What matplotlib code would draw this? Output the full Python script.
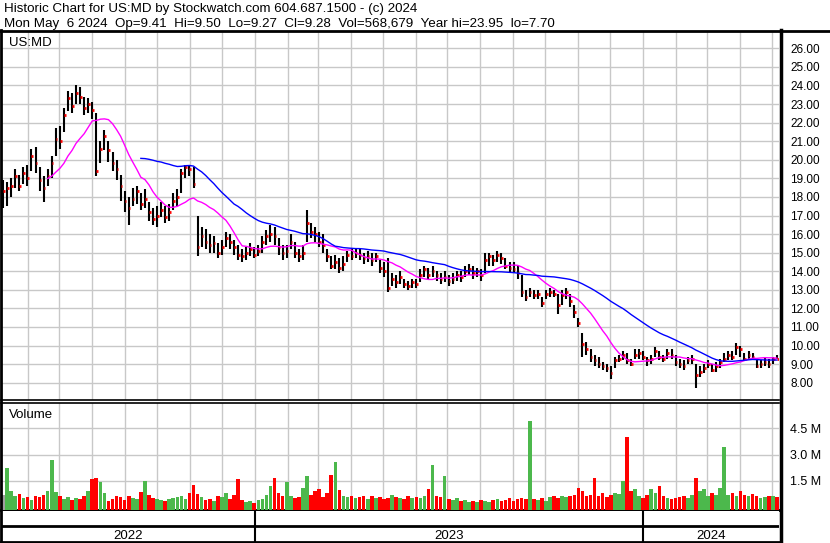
import matplotlib
matplotlib.use('Agg')
import matplotlib.pyplot as plt
import matplotlib.dates as mdates
from matplotlib.lines import Line2D
from matplotlib.ticker import FormatStrFormatter
import numpy as np
import pandas as pd

plt.rcParams['font.family'] = ['Liberation Sans', 'DejaVu Sans']

# US:MD, sampled about every 2-3 sessions, 9 May 2022 .. 6 May 2024
close = [
    18.3, 18.5, 18.6, 19.1, 18.6, 19.3, 19.0, 20.2, 19.8, 18.9,
    18.5, 19.1, 19.8, 21.1, 21.0, 22.4, 23.3, 22.9, 23.6, 23.4,
    22.8, 23.0, 22.7, 19.4, 20.6, 21.3, 20.5, 19.8, 19.5, 18.6,
    17.8, 17.4, 17.9, 18.3, 17.6, 17.9, 17.2, 16.8, 17.0, 17.3,
    16.9, 17.2, 17.8, 18.0, 19.3, 19.6, 19.5, 18.7, 15.3, 15.9,
    15.6, 15.4, 15.5, 15.0, 15.3, 15.8, 15.6, 15.3, 14.9, 14.8,
    15.0, 15.2, 14.9, 15.1, 15.6, 15.9, 16.0, 15.9, 15.3, 15.0,
    15.1, 15.6, 15.0, 14.8, 15.0, 16.6, 16.1, 16.0, 15.6, 15.4,
    14.8, 14.3, 14.5, 14.2, 14.4, 14.9, 14.8, 15.0, 14.9, 14.7,
    14.8, 14.6, 14.8, 14.2, 14.0, 13.1, 13.6, 13.4, 13.7, 13.3,
    13.2, 13.4, 13.3, 13.8, 14.1, 13.8, 14.0, 13.8, 13.6, 13.7,
    13.5, 13.6, 13.8, 13.7, 14.0, 14.1, 13.9, 14.0, 13.8, 14.6,
    14.8, 14.6, 14.9, 14.7, 14.3, 14.2, 14.1, 13.9, 12.9, 12.6,
    12.9, 12.7, 12.8, 12.3, 12.8, 12.9, 12.8, 12.2, 12.7, 12.9,
    12.4, 11.8, 11.2, 10.1, 9.8, 9.4, 9.2, 9.0, 8.9, 8.8,
    8.5, 9.2, 9.3, 9.5, 9.2, 9.0, 9.5, 9.6, 9.4, 9.2,
    9.3, 9.7, 9.4, 9.3, 9.6, 9.5, 9.1, 9.0, 8.9, 9.2,
    9.3, 8.4, 8.6, 8.8, 9.0, 8.7, 8.9, 9.1, 9.3, 9.5,
    9.4, 9.9, 9.8, 9.3, 9.5, 9.4, 8.9, 9.0, 9.1, 9.0,
    9.3, 9.28]

high = [
    18.9, 18.8, 19.0, 19.5, 19.2, 19.6, 19.7, 20.6, 20.7, 19.6,
    19.1, 19.5, 20.2, 21.7, 21.8, 22.8, 23.7, 23.6, 24.0, 23.9,
    23.4, 23.3, 23.1, 22.5, 21.0, 21.6, 21.0, 20.4, 20.0, 19.2,
    18.3, 18.0, 18.5, 18.6, 18.2, 18.4, 17.7, 17.4, 17.5, 17.7,
    17.5, 17.6, 18.2, 18.4, 19.5, 19.7, 19.7, 19.6, 17.0, 16.4,
    16.3, 16.0, 15.9, 15.5, 15.7, 16.1, 16.0, 15.7, 15.4, 15.2,
    15.3, 15.5, 15.3, 15.4, 15.9, 16.2, 16.5, 16.4, 15.8, 15.4,
    15.4, 16.0, 15.6, 15.2, 15.4, 17.3, 16.6, 16.4, 16.1, 16.0,
    15.2, 14.8, 14.9, 14.7, 14.8, 15.1, 15.2, 15.2, 15.2, 15.0,
    15.1, 15.0, 15.0, 14.6, 14.5, 14.7, 13.9, 13.8, 14.0, 13.6,
    13.5, 13.6, 13.6, 14.1, 14.3, 14.2, 14.3, 14.0, 13.9, 14.0,
    13.8, 13.9, 14.0, 14.0, 14.3, 14.4, 14.3, 14.2, 14.1, 15.0,
    15.0, 14.9, 15.1, 15.0, 14.7, 14.5, 14.5, 14.3, 13.8, 13.0,
    13.1, 13.0, 13.0, 12.6, 13.0, 13.1, 13.0, 12.8, 13.0, 13.1,
    12.8, 12.2, 11.5, 10.7, 10.2, 9.8, 9.5, 9.4, 9.1, 9.0,
    8.9, 9.4, 9.5, 9.7, 9.6, 9.3, 9.8, 9.8, 9.7, 9.4,
    9.5, 9.9, 9.7, 9.5, 9.8, 9.8, 9.5, 9.3, 9.2, 9.4,
    9.5, 9.0, 8.9, 9.0, 9.2, 9.0, 9.1, 9.3, 9.6, 9.7,
    9.7, 10.15, 10.0, 9.6, 9.7, 9.6, 9.3, 9.2, 9.4, 9.3,
    9.4, 9.50]

low = [
    17.4, 17.5, 18.0, 18.5, 18.3, 18.7, 18.6, 19.4, 19.3, 18.3,
    17.7, 18.6, 19.0, 20.2, 20.6, 21.5, 22.6, 22.5, 23.0, 23.0,
    22.4, 22.5, 22.2, 19.1, 19.8, 20.5, 19.9, 19.4, 18.9, 17.8,
    17.2, 16.5, 17.5, 17.6, 17.3, 17.4, 16.7, 16.5, 16.4, 16.9,
    16.6, 16.7, 17.3, 17.5, 18.2, 19.0, 19.1, 18.5, 14.8, 15.3,
    15.2, 15.0, 15.0, 14.7, 14.9, 15.3, 15.2, 14.9, 14.6, 14.5,
    14.6, 14.8, 14.7, 14.8, 15.0, 15.4, 15.6, 15.4, 14.9, 14.6,
    14.7, 15.2, 14.7, 14.5, 14.6, 15.6, 15.8, 15.6, 15.3, 15.0,
    14.5, 14.1, 14.1, 13.9, 14.0, 14.5, 14.6, 14.7, 14.6, 14.4,
    14.5, 14.3, 14.5, 13.9, 13.7, 12.9, 13.2, 13.1, 13.3, 13.1,
    13.0, 13.1, 13.1, 13.4, 13.7, 13.6, 13.7, 13.5, 13.3, 13.4,
    13.2, 13.3, 13.5, 13.4, 13.7, 13.8, 13.6, 13.7, 13.5, 13.9,
    14.3, 14.3, 14.5, 14.4, 14.1, 13.9, 13.9, 13.6, 12.6, 12.4,
    12.6, 12.5, 12.5, 12.1, 12.5, 12.6, 12.6, 11.7, 12.2, 12.5,
    12.1, 11.5, 11.0, 9.4, 9.5, 9.1, 8.9, 8.8, 8.7, 8.6,
    8.2, 8.8, 9.1, 9.2, 9.0, 8.9, 9.3, 9.3, 9.2, 8.9,
    9.0, 9.4, 9.2, 9.1, 9.3, 9.3, 8.9, 8.8, 8.7, 9.0,
    9.0, 7.7, 8.3, 8.5, 8.8, 8.6, 8.6, 8.8, 9.1, 9.2,
    9.2, 9.5, 9.4, 9.2, 9.3, 9.2, 8.8, 8.8, 8.9, 8.8,
    9.0, 9.27]

# volume in millions
volume = [
    0.7, 2.23, 0.9, 0.6, 0.75, 0.5, 0.55, 0.4, 0.65, 0.55,
    0.7, 0.9, 2.67, 0.85, 0.6, 0.45, 0.55, 0.4, 0.5, 0.45,
    0.6, 0.9, 1.6, 1.63, 1.4, 0.8, 0.35, 0.45, 0.6, 0.55,
    0.4, 0.65, 0.5, 0.45, 0.85, 1.5, 0.7, 0.5, 0.45, 0.4,
    0.35, 0.45, 0.5, 0.55, 0.6, 0.45, 0.8, 1.23, 0.75, 0.55,
    0.4, 0.45, 0.35, 0.6, 0.55, 0.8, 0.45, 0.7, 1.6, 0.4,
    0.3, 0.35, 0.25, 0.4, 0.45, 0.7, 1.2, 1.65, 0.8, 0.6,
    1.44, 0.6, 0.5, 0.55, 1.1, 1.8, 0.7, 0.9, 1.0, 0.55,
    0.8, 1.85, 2.6, 0.95, 0.6, 0.55, 0.65, 0.5, 0.55, 0.6,
    0.45, 0.6, 0.5, 0.55, 0.45, 0.5, 0.7, 0.55, 0.5, 0.45,
    0.6, 0.5, 0.55, 0.5, 0.6, 1.0, 2.4, 0.6, 0.55, 1.8,
    0.45, 0.4, 0.5, 0.35, 0.4, 0.3, 0.35, 0.3, 0.4, 0.35,
    0.3, 0.4, 0.45, 0.35, 0.4, 0.5, 0.35, 0.45, 0.5, 0.45,
    4.92, 0.45, 0.4, 0.5, 0.35, 0.55, 0.6, 0.5, 0.65, 0.55,
    0.6, 0.7, 1.1, 0.9, 0.6, 0.7, 1.65, 0.6, 0.8, 0.55,
    0.7, 0.8, 0.75, 1.5, 4.0, 0.9, 1.0, 0.6, 0.5, 0.7,
    1.05, 0.8, 1.2, 0.6, 0.5, 0.45, 0.5, 0.55, 0.6, 0.5,
    0.7, 1.65, 0.9, 1.0, 0.6, 0.8, 0.7, 1.1, 3.42, 0.7,
    0.8, 0.6, 0.9, 0.7, 0.6, 0.75, 0.65, 0.5, 0.55, 0.6,
    0.6, 0.57]

price_ticks = list(range(8, 27))
vol_ticks = [1.5, 3.0, 4.5]
vol_labels = ['1.5 M', '3.0 M', '4.5 M']
years = ['2022', '2023', '2024']

header1 = 'Historic Chart for US:MD by Stockwatch.com 604.687.1500 - (c) 2024'
header2 = ('Mon May  6 2024  Op=9.41  Hi=9.50  Lo=9.27  Cl=9.28  '
           'Vol=568,679  Year hi=23.95  lo=7.70')

dates = pd.date_range('2022-05-09', '2024-05-06', periods=len(close))
x = mdates.date2num(dates)
s = pd.Series(close)
ma_fast = s.rolling(12).mean()
ma_slow = s.rolling(35).mean()

W, H = 830, 543
fig = plt.figure(figsize=(W / 100, H / 100), dpi=100)


def box(x0, y0, x1, y1):
    return [x0 / W, 1 - y1 / H, (x1 - x0) / W, (y1 - y0) / H]


def fline(x0, y0, x1, y1, lw):
    fig.add_artist(Line2D([x0 / W, x1 / W], [1 - y0 / H, 1 - y1 / H],
                          transform=fig.transFigure, color='black', lw=lw))


ax = fig.add_axes(box(1, 31, 779, 400))
axv = fig.add_axes(box(1, 403, 779, 509.5), sharex=ax)
axy = fig.add_axes(box(1, 510.5, 779, 541.5), sharex=ax)

xmin = mdates.datestr2num('2022-05-07')
xmax = mdates.datestr2num('2024-05-08')

# price panel
ax.vlines(x, low, high, color='black', lw=1.5, zorder=3)
ax.hlines(close, x, x + 1.6, color='red', lw=2, zorder=4)
ax.plot(x, ma_fast, color='#ff00ff', lw=1, zorder=5)
ax.plot(x, ma_slow, color='#0000ff', lw=1, zorder=5)
ax.set_xlim(xmin, xmax)
ax.set_ylim(7.07, 26.93)
ax.set_yticks(price_ticks)
ax.yaxis.set_major_formatter(FormatStrFormatter('%.2f'))
ax.yaxis.tick_right()
ax.tick_params(axis='y', length=0, pad=8, labelsize=8.5)
ax.tick_params(axis='x', length=0, labelbottom=False)
ax.xaxis.set_major_locator(mdates.MonthLocator())
ax.grid(color='#c8c8c8', lw=1)
ax.set_axisbelow(True)

# volume panel
chg = np.diff(close, prepend=close[0])
colors = ['#4cb84c' if c > 0 else '#ff0000' if c < 0 else '#a0a0a0' for c in chg]
floor = -0.15
axv.bar(x, np.array(volume) - floor, bottom=floor, width=3.4, color=colors,
        zorder=3)
axv.set_ylim(floor, 5.96)
axv.set_yticks(vol_ticks)
axv.set_yticklabels(vol_labels)
axv.yaxis.tick_right()
axv.tick_params(axis='y', length=0, pad=8, labelsize=9)
axv.tick_params(axis='x', length=0, labelbottom=False)
axv.grid(color='#c8c8c8', lw=1)
axv.set_axisbelow(True)

# year band
axy.set_ylim(0, 1)
axy.set_yticks([])
axy.tick_params(axis='x', length=0, labelbottom=False)
axy.axhline(0.484, color='black', lw=2)
bounds = [xmin, mdates.datestr2num('2023-01-01'),
          mdates.datestr2num('2024-01-01'), xmax]
for b in bounds[1:-1]:
    axy.axvline(b, color='black', lw=1.5)
for i, yr in enumerate(years):
    axy.text((bounds[i] + bounds[i + 1]) / 2, 0.07, yr, ha='center',
             va='baseline', fontsize=9.5, transform=axy.get_xaxis_transform())

for a in (ax, axv, axy):
    for side in ('left', 'right', 'top'):
        a.spines[side].set_visible(False)
ax.spines['bottom'].set_linewidth(1.2)
axv.spines['top'].set_visible(True)
axv.spines['top'].set_linewidth(1.2)
axv.spines['bottom'].set_linewidth(2)
axy.spines['bottom'].set_linewidth(2)

fline(0, 30.5, W, 30.5, 2)
fline(1, 30, 1, H, 2)
fline(780.5, 30, 780.5, H, 2.5)

fig.text(4 / W, 1 - 11.7 / H, header1, fontsize=9.6, va='baseline')
fig.text(4 / W, 1 - 26.5 / H, header2, fontsize=9.6, va='baseline')
fig.text(9 / W, 1 - 46 / H, 'US:MD', fontsize=9.5, va='baseline')
fig.text(9 / W, 1 - 418 / H, 'Volume', fontsize=9.5, va='baseline')

fig.savefig('out.png', dpi=100)
